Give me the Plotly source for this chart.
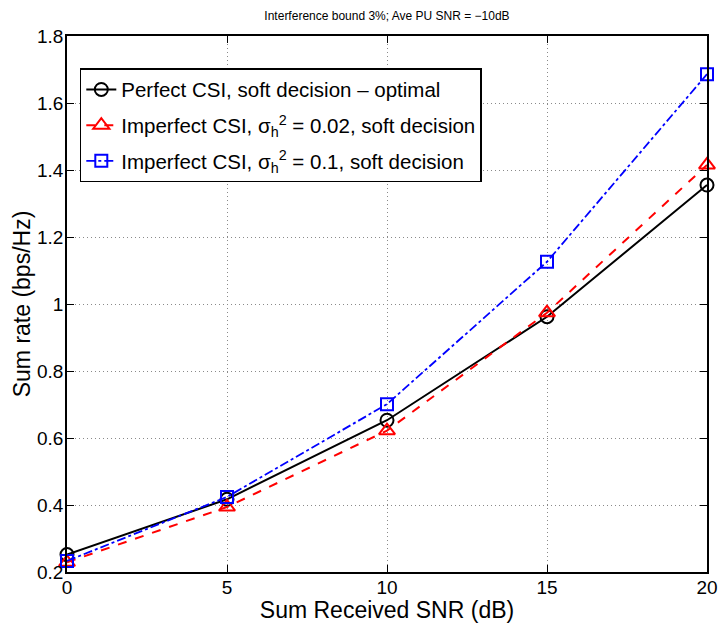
import plotly.graph_objects as go

snr_db = [0, 5, 10, 15, 20]
perfect_csi = [0.252, 0.417, 0.653, 0.962, 1.355]
imperfect_002 = [0.229, 0.394, 0.622, 0.974, 1.415]
imperfect_01 = [0.233, 0.424, 0.701, 1.126, 1.686]

x_ticks = [0, 5, 10, 15, 20]
y_ticks = [0.2, 0.4, 0.6, 0.8, 1.0, 1.2, 1.4, 1.6, 1.8]
y_tick_labels = ["0.2", "0.4", "0.6", "0.8", "1", "1.2", "1.4", "1.6", "1.8"]

names = [
    "Perfect CSI, soft decision \u2013 optimal",
    "Imperfect CSI, \u03c3<sub>h</sub><sup>2</sup> = 0.02, soft decision",
    "Imperfect CSI, \u03c3<sub>h</sub><sup>2</sup> = 0.1, soft decision",
]

FONT = "Liberation Sans, Arial, sans-serif"

fig = go.Figure()
fig.add_trace(go.Scatter(
    x=snr_db, y=perfect_csi, name=names[0], mode="lines+markers", legendgroup="a",
    line=dict(color="black", width=2, dash="solid"),
    marker=dict(symbol="circle-open", size=13, color="black", line=dict(width=2)),
    cliponaxis=False,
))
fig.add_trace(go.Scatter(
    x=snr_db, y=imperfect_002, name=names[1], mode="lines+markers", legendgroup="b",
    line=dict(color="red", width=2, dash="dash"),
    marker=dict(symbol="triangle-up-open", size=14, color="red", line=dict(width=2)),
    cliponaxis=False,
))
fig.add_trace(go.Scatter(
    x=snr_db, y=imperfect_01, name=names[2], mode="lines+markers", legendgroup="c",
    line=dict(color="blue", width=1.8, dash="dashdot"),
    marker=dict(symbol="square-open", size=12, color="blue", line=dict(width=2)),
    cliponaxis=False,
))

axis_common = dict(
    showline=True, linecolor="black", linewidth=1.5, mirror="ticks",
    ticks="inside", ticklen=7, tickcolor="black", tickwidth=1,
    showgrid=True, gridcolor="#8a8a8a", gridwidth=1, griddash="1px,3px",
    zeroline=False, tickfont=dict(size=19, color="black", family=FONT),
    automargin=False,
)

fig.update_layout(
    width=722, height=623,
    margin=dict(l=67, r=15, t=36, b=51),
    paper_bgcolor="white", plot_bgcolor="white",
    font=dict(family=FONT, color="black"),
    title=dict(
        text="Interference bound 3%; Ave PU SNR = \u221210dB",
        font=dict(size=12, color="black", family=FONT),
        x=0.5 + (67 - 15) / 2 / 722, xanchor="center",
        y=1 - 16 / 623, yanchor="middle",
    ),
    xaxis=dict(
        range=[0, 20], tickvals=x_ticks, ticklabelstandoff=-3,
        title=dict(text="Sum Received SNR (dB)", font=dict(size=23, color="black", family=FONT), standoff=0),
        **axis_common,
    ),
    yaxis=dict(
        range=[0.2, 1.8], tickvals=y_ticks, ticktext=y_tick_labels, ticklabelstandoff=-2,
        title=dict(text="Sum rate (bps/Hz)", font=dict(size=23, color="black", family=FONT), standoff=0),
        **axis_common,
    ),
    legend=dict(
        x=0.02, y=0.94, xanchor="left", yanchor="top",
        bgcolor="white", bordercolor="black", borderwidth=1.5,
        font=dict(size=20.5, color="black", family=FONT),
        itemwidth=30, tracegroupgap=6,
    ),
    showlegend=True,
)

fig.write_html("out.html")
